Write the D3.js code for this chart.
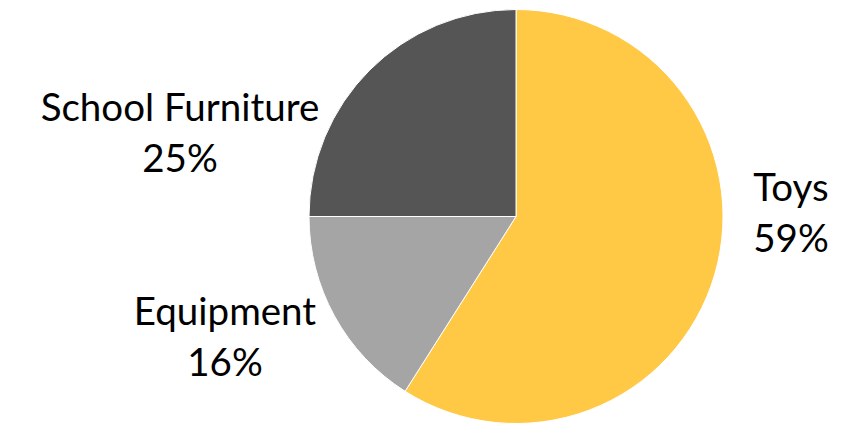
<!DOCTYPE html>
<html>
<head>
<meta charset="utf-8">
<script src="https://cdn.jsdelivr.net/npm/d3@7"></script>
<style>
  body { margin: 0; background: #fff; }
  svg { display: block; }
</style>
</head>
<body>
<svg width="849" height="425"></svg>
<script>
// data
const categories = ['Toys', 'Equipment', 'School Furniture'];
const shares = [59, 16, 25];
const colors = ['#FFC845', '#A5A5A5', '#555555'];

const width = 849, height = 425;
const cx = 516, cy = 216.5, radius = 207;

// label anchors (center x, first-line baseline), relative to the page
const labelAnchors = [[791, 201], [225, 325], [180, 121]];
const lineGap = 51;

const svg = d3.select('svg');
const chart = svg.append('g')
    .attr('transform', `translate(${cx}, ${cy})`);

const pie = d3.pie().sort(null).value(d => d.value);
const arc = d3.arc().innerRadius(0).outerRadius(radius);

const slices = pie(categories.map((c, i) => ({ name: c, value: shares[i], color: colors[i] })));

chart.selectAll('path')
    .data(slices)
    .enter()
    .append('path')
    .attr('d', arc)
    .attr('fill', d => d.data.color)
    .attr('stroke', '#fff')
    .attr('stroke-width', 1);

const labels = svg.selectAll('g.label')
    .data(slices)
    .enter()
    .append('g')
    .attr('class', 'label')
    .attr('transform', (d, i) => `translate(${labelAnchors[i][0]}, ${labelAnchors[i][1]})`);

labels.append('text')
    .attr('text-anchor', 'middle')
    .attr('font-family', 'Lato, "Open Sans", sans-serif')
    .attr('font-size', 38.5)
    .attr('fill', '#000')
    .selectAll('tspan')
    .data(d => [d.data.name, d.data.value + '%'])
    .enter()
    .append('tspan')
    .attr('x', 0)
    .attr('y', (t, j) => j * lineGap)
    .text(t => t);
</script>
</body>
</html>
